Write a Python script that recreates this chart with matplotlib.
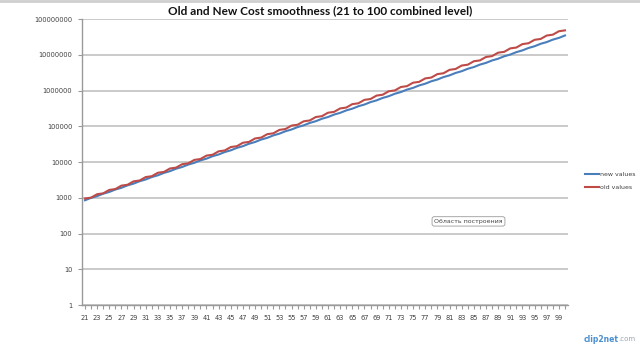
import matplotlib
matplotlib.use("Agg")
import matplotlib.pyplot as plt
from matplotlib.ticker import FixedLocator, FixedFormatter, NullLocator
from matplotlib.lines import Line2D

levels = list(range(21, 101))

new_values = [
    851, 995, 1113, 1302, 1455, 1702, 1903, 2226, 2489, 2911,
    3255, 3807, 4256, 4977, 5565, 6508, 7278, 8512, 9517, 11130,
    12445, 14554, 16274, 19032, 21282, 24889, 27827, 32544, 36392, 42561,
    47590, 55656, 62233, 72781, 81379, 95173, 106410, 124447, 139150, 162736,
    181980, 212826, 237960, 278294, 311170, 363913, 406910, 475881, 532110, 622303,
    695820, 813762, 909900, 1064128, 1189800, 1391471, 1555900, 1819625, 2034800, 2379699,
    2660900, 3111923, 3479500, 4069275, 4550000, 5321225, 5949600, 6958057, 7780400, 9099178,
    10174000, 11898493, 13304000, 15559028, 17397000, 20345792, 22750000, 26606125, 29751000, 34793795,
]

old_values = [
    955, 1009, 1259, 1331, 1660, 1754, 2188, 2312, 2884, 3048,
    3802, 4018, 5012, 5297, 6607, 6982, 8710, 9205, 11482, 12134,
    15136, 15996, 19953, 21086, 26302, 27796, 34674, 36644, 45710, 48306,
    60257, 63680, 79433, 83945, 104710, 110658, 138040, 145881, 181970, 192306,
    239890, 253516, 316230, 334192, 416860, 440538, 549550, 580765, 724470, 765620,
    955020, 1009285, 1258900, 1330408, 1659600, 1753865, 2187800, 2312067, 2884000, 3047871,
    3802000, 4017994, 5011900, 5296536, 6606900, 6982172, 8709900, 9204622, 11482000, 12134178,
    15136000, 15995725, 19953000, 21086330, 26302000, 27795957, 34674000, 36643483, 45710000, 48306328,
]

series_names = ["new values", "old values"]
title = "Old and New Cost smoothness (21 to 100 combined level)"
y_ticks = [1, 10, 100, 1000, 10000, 100000, 1000000, 10000000, 100000000]
y_tick_labels = [str(v) for v in y_ticks]
x_tick_labels = [str(v) for v in levels[::2]]

blue = "#4a7ebb"
red = "#be4b48"
grid_c = "#c6c6c6"
tick_c = "#404040"

fig = plt.figure(figsize=(6.4, 3.47), dpi=100)
ax = fig.add_axes([0.128, 0.121, 0.7595, 0.824])

ax.plot(levels, new_values, color=blue, lw=1.5, solid_joinstyle="round")
ax.plot(levels, old_values, color=red, lw=1.5, solid_joinstyle="round")

ax.set_yscale("log")
ax.set_ylim(1, 1e8)
ax.set_xlim(20.5, 100.5)
ax.yaxis.set_major_locator(FixedLocator(y_ticks))
ax.yaxis.set_major_formatter(FixedFormatter(y_tick_labels))
ax.yaxis.set_minor_locator(NullLocator())

ax.set_xticks(levels[::2])
ax.set_xticklabels(x_tick_labels)
ax.set_xticks(levels, minor=True)

ax.grid(axis="y", color=grid_c, lw=1.3)
ax.set_axisbelow(True)
for s in ["top", "right"]:
    ax.spines[s].set_visible(False)
for s in ["left", "bottom"]:
    ax.spines[s].set_color("#9a9a9a")
    ax.spines[s].set_linewidth(1.0)

ax.tick_params(axis="both", which="both", colors="#9a9a9a", labelcolor=tick_c,
               labelsize=4.8, length=3, width=0.8, direction="out", pad=4)
for lab in ax.get_xticklabels() + ax.get_yticklabels():
    lab.set_family("DejaVu Sans")

fig.text(0.5, 0.968, title, ha="center", va="center", fontsize=8.5,
         fontweight="bold", family="Lato", color="#111111")

handles = [Line2D([], [], color=blue, lw=1.5), Line2D([], [], color=red, lw=1.5)]
fig.legend(handles, series_names, loc="center left", bbox_to_anchor=(0.905, 0.478),
           frameon=False, fontsize=4.5, handlelength=2.2, handletextpad=0.2,
           labelspacing=1.2, labelcolor=tick_c)

fig.text(0.6785, 0.362, "Область построения", fontsize=4.5, color="#444444",
         ha="left", va="center",
         bbox=dict(boxstyle="round,pad=0.35", fc="white", ec="#9a9a9a", lw=0.6))

wm = fig.text(0.966, 0.022, "clip2net", fontsize=5.5, color="#4a8fd0", ha="right",
              va="center", fontweight="bold", family="DejaVu Sans")
fig.add_artist(plt.Annotation(".com", xy=(1.0, 0.5), xycoords=wm, fontsize=5,
                              color="#9aa6b0", ha="left", va="center"))

fig.add_artist(Line2D([0, 1], [0.997, 0.997], transform=fig.transFigure,
                      color="#cfcfcf", lw=2))

fig.savefig("out.png", dpi=100)
